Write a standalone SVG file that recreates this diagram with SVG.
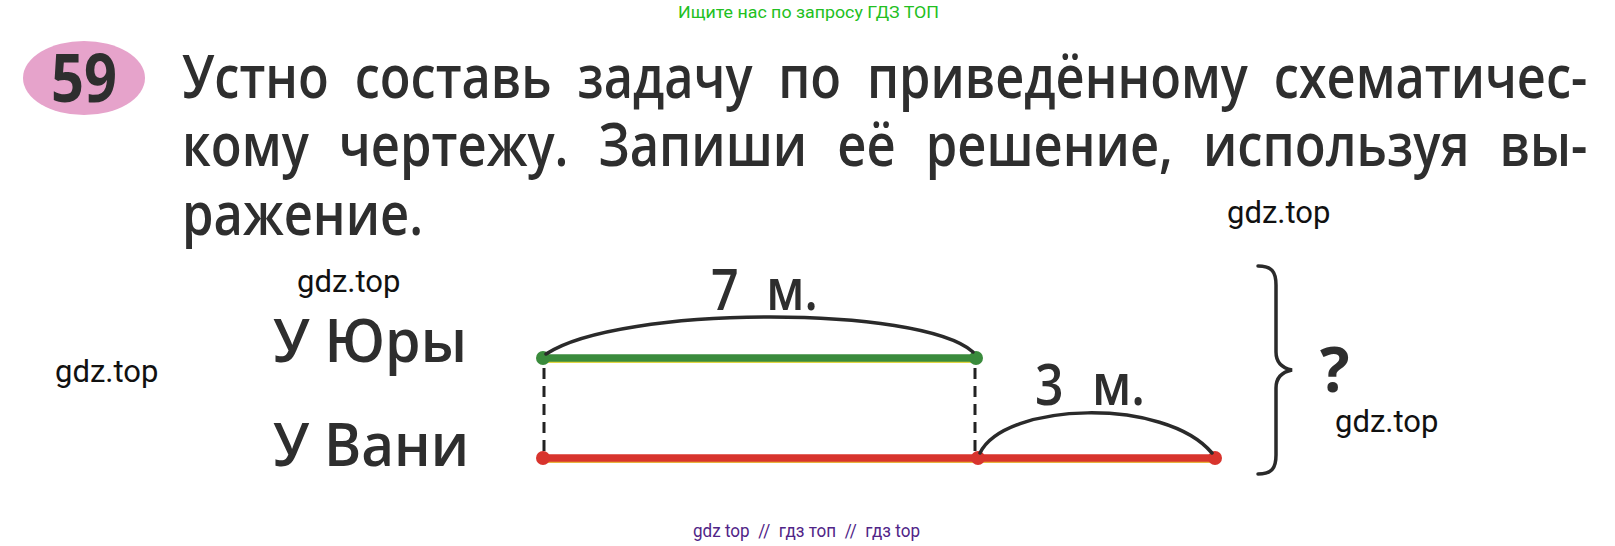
<svg xmlns="http://www.w3.org/2000/svg" width="1615" height="546" viewBox="0 0 1615 546">
<style>
.t{font-family:"Open Sans","Noto Sans","DejaVu Sans",sans-serif;fill:#2e2e2e}
.title{font-size:60px;font-weight:600}
.lbl{font-size:59px;font-weight:600}
.num{font-size:58px;font-weight:600}
.wm{font-family:Roboto,"Liberation Sans",sans-serif;font-size:31px;fill:#111}
.arc{fill:none;stroke:#2a2a2a;stroke-width:3.5;stroke-linecap:round}
.dash{stroke:#222;stroke-width:3;stroke-dasharray:11 7}
.gdot{fill:#3a8b3c}
.rdot{fill:#d8342d}
</style>
<rect width="1615" height="546" fill="#ffffff"/>

<g id="header-watermark">
<text x="678" y="18" font-family="Roboto,'Liberation Sans',sans-serif" font-size="17" fill="#22c022" textLength="261" lengthAdjust="spacingAndGlyphs">Ищите нас по запросу ГДЗ ТОП</text>
</g>

<g id="badge">
<ellipse cx="84" cy="78" rx="61" ry="37" fill="#e6a3cb"/>
<text class="t" transform="translate(51,102) scale(0.88,1)" x="0" y="0" font-size="66" font-weight="700" fill="#2a2a2a" textLength="75" lengthAdjust="spacingAndGlyphs">59</text>
</g>

<g id="task-text">
<text class="t title" transform="translate(182,98) scale(0.84,1)" x="0" y="0" word-spacing="15" textLength="1673" lengthAdjust="spacingAndGlyphs">Устно составь задачу по приведённому схематичес-</text>
<text class="t title" transform="translate(182,166) scale(0.84,1)" x="0" y="0" word-spacing="20" textLength="1673" lengthAdjust="spacingAndGlyphs">кому чертежу. Запиши её решение, используя вы-</text>
<text class="t title" transform="translate(182,235) scale(0.84,1)" x="0" y="0" textLength="287" lengthAdjust="spacingAndGlyphs">ражение.</text>
</g>

<g id="watermarks">
<text class="wm" x="1227" y="223">gdz.top</text>
<text class="wm" x="297" y="292">gdz.top</text>
<text class="wm" x="55" y="382">gdz.top</text>
<text class="wm" x="1335" y="432">gdz.top</text>
</g>

<g id="label-yura">
<text class="t lbl" x="273" y="362" textLength="194" lengthAdjust="spacingAndGlyphs">У Юры</text>
</g>
<g id="label-vanya">
<text class="t lbl" x="273" y="466" textLength="196" lengthAdjust="spacingAndGlyphs">У Вани</text>
</g>

<g id="segment-yura">
<line x1="543" y1="361" x2="976" y2="361" stroke="#e3d642" stroke-width="4"/>
<line x1="543" y1="358" x2="976" y2="358" stroke="#3a8b3c" stroke-width="7.5"/>
<circle class="gdot" cx="543" cy="358" r="7"/>
<circle class="gdot" cx="976" cy="358" r="7"/>
</g>

<g id="segment-vanya">
<line x1="543" y1="461" x2="1215" y2="461" stroke="#e8b43e" stroke-width="4"/>
<line x1="543" y1="458" x2="1215" y2="458" stroke="#d8342d" stroke-width="7.5"/>
<circle class="rdot" cx="543" cy="458" r="7"/>
<circle class="rdot" cx="978" cy="458" r="7"/>
<circle class="rdot" cx="1215" cy="458" r="7"/>
</g>

<g id="connectors">
<line class="dash" x1="544" y1="368" x2="544" y2="452"/>
<line class="dash" x1="975" y1="368" x2="975" y2="452"/>
<path class="arc" d="M546,354 C620,305 920,305 973,352"/>
<path class="arc" d="M980,453 C1005,402 1165,397 1212,453"/>
<path class="arc" stroke-width="4.5" d="M1258,266 C1272,266 1276,272 1276,285 L1276,352 C1276,362 1282,368 1292,370 C1282,372 1276,378 1276,388 L1276,455 C1276,468 1272,474 1258,474"/>
</g>

<g id="label-7m">
<text class="t num" transform="translate(711,310) scale(0.84,1)" x="0" y="0" word-spacing="18" textLength="127" lengthAdjust="spacingAndGlyphs">7 м.</text>
</g>
<g id="label-3m">
<text class="t num" transform="translate(1035,405) scale(0.84,1)" x="0" y="0" word-spacing="18" textLength="131" lengthAdjust="spacingAndGlyphs">3 м.</text>
</g>
<g id="question">
<text class="t" x="1320" y="392" font-size="62" font-weight="700">?</text>
</g>

<g id="footer-watermark">
<text x="693" y="537" font-family="Roboto,'Liberation Sans',sans-serif" font-size="19" fill="#502487" style="white-space:pre" textLength="227" lengthAdjust="spacingAndGlyphs">gdz top  //  гдз топ  //  гдз top</text>
</g>
</svg>
